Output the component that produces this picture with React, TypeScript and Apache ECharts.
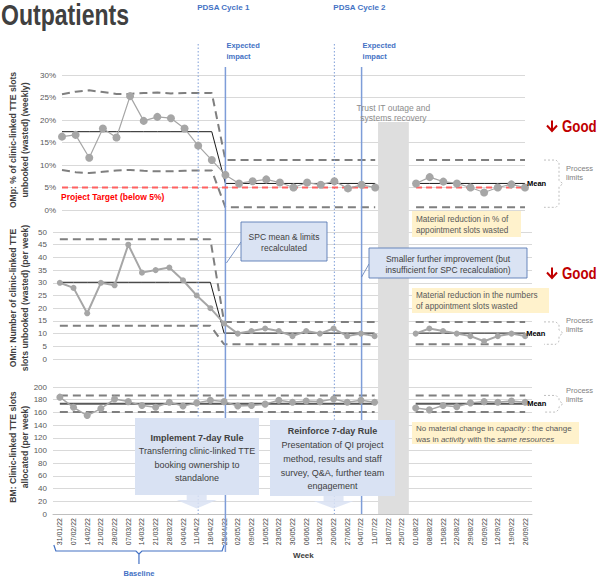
import React, { useEffect, useRef } from "react";
import * as echarts from "echarts";

// Weekly periods (Monday of each week)
const weeks = [
  "31/01/22", "07/02/22", "14/02/22", "21/02/22", "28/02/22", "07/03/22", "14/03/22",
  "21/03/22", "28/03/22", "04/04/22", "11/04/22", "18/04/22", "25/04/22", "02/05/22",
  "09/05/22", "16/05/22", "23/05/22", "30/05/22", "06/06/22", "13/06/22", "20/06/22",
  "27/06/22", "04/07/22", "11/07/22", "18/07/22", "25/07/22", "01/08/22", "08/08/22",
  "15/08/22", "22/08/22", "29/08/22", "05/09/22", "12/09/22", "19/09/22", "26/09/22",
];
const outageWeeks = ["18/07/22", "25/07/22"];
const cycleWeeks = ["11/04/22", "20/06/22"];
const impactWeeks = ["25/04/22", "04/07/22"];
const recalcWeek = "25/04/22";
const baselineWeeks = ["31/01/22", "25/04/22"];

// OMp: % of clinic-linked TTE slots unbooked
const pctUnbooked = [
  16.3, 16.7, 11.6, 18.1, 16.1, 25.3, 19.8, 20.7, 20.4, 18.1, 14.3, 11.1, 7.8, 5.9, 6.4,
  6.8, 6.1, 5.0, 6.1, 5.6, 6.4, 4.8, 5.6, 5.0, null, null, 5.9, 7.3, 6.3, 5.9, 5.0, 3.9,
  5.0, 5.7, 5.0,
];
const pctUclBaseline = [25.7, 26.3, 26.6, 26.2, 25.8, 25.8, 26.0, 26.1, 25.9, 26.0, 26.0, 26.0];
const pctLclBaseline = [8.9, 8.4, 8.2, 8.5, 8.8, 8.9, 8.7, 8.6, 8.6, 8.7, 8.8, 8.8];
const pctMeanPhases = [17.4, 5.9];
const pctUclPost = 11.1;
const pctLclPost = 0.6;
const pctTarget = 5;

// OMn: number of clinic-linked TTE slots unbooked per week
const numUnbooked = [
  30, 28, 18, 30, 29, 45, 34, 35, 36, 31, 25, 20, 14, 10, 11, 12, 11, 9, 11, 10, 12, 9, 10,
  9, null, null, 10, 12, 11, 10, 9, 7, 9, 10, 9,
];
const numMeanPhases = [30.2, 10.2];
const numUclPhases = [47.1, 14.6];
const numLclPhases = [13.1, 5.8];

// BM: clinic-linked TTE slots allocated per week
const slotsAllocated = [
  184, 168, 155, 166, 181, 177, 171, 168, 176, 170, 175, 179, 177, 170, 171, 173, 179, 176,
  178, 177, 181, 176, 179, 176, null, null, 167, 164, 171, 169, 175, 177, 176, 178, 176,
];
const slotsMean = 173.6;
const slotsUcl = 186.7;
const slotsLcl = 160.5;

const FONT = "'Liberation Sans', Arial, sans-serif";
const recalcIdx = weeks.indexOf(recalcWeek);

// Step line across the two SPC phases, broken during the IT outage
const phase = (before: number | number[], after: number) =>
  weeks.map((w, i) =>
    outageWeeks.includes(w)
      ? null
      : i < recalcIdx
      ? typeof before === "number"
        ? before
        : before[i]
      : after
  );

const limitStyle = { color: "#7F7F7F", width: 2, type: [8, 5] };

function yAxis(gridIndex: number, max: number, interval: number, pct = false) {
  const label: any = { fontSize: 8, color: "#595959", margin: 6, fontFamily: FONT };
  if (pct) label.formatter = "{value}%";
  return {
    type: "value",
    gridIndex,
    min: 0,
    max,
    interval,
    axisLine: { show: false },
    axisTick: { show: false },
    axisLabel: label,
    splitLine: { lineStyle: { color: "#D9D9D9", width: 1 } },
  };
}

function line(idx: number, data: (number | null)[], lineStyle: any, z = 2) {
  return {
    type: "line",
    xAxisIndex: idx,
    yAxisIndex: idx,
    data,
    symbol: "none",
    silent: true,
    lineStyle,
    z,
  };
}

function points(idx: number, data: (number | null)[], size: number, width: number) {
  return {
    type: "line",
    xAxisIndex: idx,
    yAxisIndex: idx,
    data,
    symbol: "circle",
    symbolSize: size,
    showSymbol: true,
    silent: true,
    itemStyle: { color: "#A6A6A6", borderWidth: 0 },
    lineStyle: { color: "#A6A6A6", width },
    z: 5,
  };
}

function buildOption(): any {
  return {
    animation: false,
    textStyle: { fontFamily: FONT },
    grid: [
      { left: 62, right: 72, top: 75, height: 135 },
      { left: 53, right: 65, top: 232, height: 127 },
      { left: 53, right: 65, top: 387, height: 127 },
    ],
    xAxis: [
      { type: "category", gridIndex: 0, data: weeks, boundaryGap: false, show: false },
      { type: "category", gridIndex: 1, data: weeks, boundaryGap: true, show: false },
      {
        type: "category",
        gridIndex: 2,
        data: weeks,
        boundaryGap: true,
        axisLine: { lineStyle: { color: "#BFBFBF" } },
        axisTick: { show: false },
        axisLabel: { rotate: 90, interval: 0, fontSize: 7, color: "#404040", margin: 4, fontFamily: FONT },
      },
    ],
    yAxis: [yAxis(0, 30, 5, true), yAxis(1, 50, 5), yAxis(2, 200, 20)],
    series: [
      line(0, phase(pctUclBaseline, pctUclPost), limitStyle),
      line(0, phase(pctLclBaseline, pctLclPost), limitStyle),
      line(0, phase(pctMeanPhases[0], pctMeanPhases[1]), { color: "#1A1A1A", width: 1 }),
      line(0, phase(pctTarget, pctTarget), { color: "#FF6161", width: 1.8, type: [6, 4] }, 3),
      points(0, pctUnbooked, 8, 1.2),

      line(1, phase(numUclPhases[0], numUclPhases[1]), limitStyle),
      line(1, phase(numLclPhases[0], numLclPhases[1]), limitStyle),
      line(1, phase(numMeanPhases[0], numMeanPhases[1]), { color: "#1A1A1A", width: 1 }),
      points(1, numUnbooked, 6, 2),

      line(2, phase(slotsUcl, slotsUcl), limitStyle),
      line(2, phase(slotsLcl, slotsLcl), limitStyle),
      line(2, phase(slotsMean, slotsMean), { color: "#595959", width: 2 }),
      points(2, slotsAllocated, 7, 1.5),
    ],
  };
}

function txt(text: string, x: number, y: number, o: any = {}) {
  const { align = "left", vAlign = "middle", z = 20, rotation, scaleX, ...rest } = o;
  const el: any = {
    type: "text",
    x,
    y,
    z,
    silent: true,
    style: {
      text,
      fontFamily: FONT,
      fontSize: 8,
      fill: "#404040",
      align,
      textAlign: align,
      verticalAlign: vAlign,
      textVerticalAlign: vAlign,
      ...rest,
    },
  };
  if (rotation !== undefined) el.rotation = rotation;
  if (scaleX !== undefined) el.scaleX = scaleX;
  return el;
}

function rect(x: number, y: number, w: number, h: number, fill: string, stroke?: string, z = 15) {
  return {
    type: "rect",
    z,
    silent: true,
    shape: { x, y, width: w, height: h },
    style: { fill, stroke: stroke || "none", lineWidth: stroke ? 0.9 : 0 },
  };
}

function seg(x1: number, y1: number, x2: number, y2: number, stroke: string, lineWidth: number, lineDash?: number[], z = 3) {
  const style: any = { stroke, lineWidth };
  if (lineDash) style.lineDash = lineDash;
  return { type: "line", z, silent: true, shape: { x1, y1, x2, y2 }, style };
}

function poly(points: number[][], stroke: string, lineWidth: number, lineDash?: number[], z = 12) {
  const style: any = { stroke, lineWidth, fill: "none" };
  if (lineDash) style.lineDash = lineDash;
  return { type: "polyline", z, silent: true, shape: { points }, style };
}

function lines(list: string[], cx: number, y0: number, lh: number, o: any = {}) {
  return list.map((l, i) => txt(l, cx, y0 + i * lh, o));
}

function downArrow(cx: number, top: number, tip: number, fill: string) {
  return {
    type: "polygon",
    z: 15,
    silent: true,
    shape: {
      points: [
        [cx - 10, top],
        [cx + 10, top],
        [cx + 10, top + 5],
        [cx + 20, top + 5],
        [cx, tip],
        [cx - 20, top + 5],
        [cx - 10, top + 5],
      ],
    },
    style: { fill, opacity: 0.85 },
  };
}

function brace(x: number, yT: number, yB: number) {
  const ym = (yT + yB) / 2;
  return poly(
    [
      [x, yT],
      [x + 12, yT],
      [x + 15, yT + 3],
      [x + 15, ym - 3],
      [x + 19, ym],
      [x + 15, ym + 3],
      [x + 15, yB - 3],
      [x + 12, yB],
      [x, yB],
    ],
    "#BFBFBF",
    1,
    [2, 2]
  );
}

// Red "↓ Good" marker: drawn arrow plus condensed bold word
function goodMarker(yMid: number) {
  const red = "#C00000";
  return [
    seg(552, yMid - 5.5, 552, yMid + 5, red, 2, undefined, 20),
    poly([[547, yMid - 0.5], [552, yMid + 5], [557, yMid - 0.5]], red, 2, undefined, 20),
    txt("Good", 562, yMid, { fontSize: 17, fontWeight: "bold", fill: red, scaleX: 0.78 }),
  ];
}

function buildGraphics(chart: any) {
  const px = (axis: number, cat: string) => chart.convertToPixel({ xAxisIndex: axis }, cat) as number;
  const py = (axis: number, v: number) => chart.convertToPixel({ yAxisIndex: axis }, v) as number;
  const els: any[] = [];

  const axisBottom = py(2, 0);
  const blue = "#4472C4";
  const lineBlue = "#7E9DD8";

  // Title
  els.push(txt("Outpatients", 1, 15.5, { fontSize: 29, fontWeight: "bold", fill: "#404040", scaleX: 0.795 }));

  // Axis titles
  const names = [
    ["OMp: % of clinic-linked TTE slots\nunbooked (wasted) (weekly)", 140],
    ["OMn: Number of clinic-linked TTE\nslots unbooked (wasted) (per week)", 298],
    ["BM: Clinic-linked TTE slots\nallocated (per week)", 447],
  ] as [string, number][];
  names.forEach(([t, y]) =>
    els.push(
      txt(t, 19, y, {
        align: "center",
        fontSize: 9,
        fontWeight: "bold",
        lineHeight: 12,
        rotation: Math.PI / 2,
        scaleX: 0.96,
      })
    )
  );

  // IT outage band
  const step = px(2, weeks[1]) - px(2, weeks[0]);
  const bandL = px(2, outageWeeks[0]) - step * 0.75;
  const bandR = px(2, outageWeeks[1]) + step * 0.5;
  els.push(rect(bandL, 122, bandR - bandL, axisBottom - 122, "#DEDEDE", undefined, 1));
  els.push(
    ...lines(["Trust IT outage and", "systems recovery"], (bandL + bandR) / 2, 108, 10, {
      align: "center",
      fontSize: 8.5,
      fill: "#8C8C8C",
    })
  );

  // PDSA cycle and expected impact markers
  cycleWeeks.forEach((w, i) => {
    const x = px(0, w);
    els.push(seg(x, 44, x, axisBottom, lineBlue, 1, [1.5, 2]));
    els.push(txt(`PDSA Cycle ${i + 1}`, x - 1, 7, { fontSize: 8, fontWeight: "bold", fill: blue }));
  });
  impactWeeks.forEach((w, i) => {
    const x = px(0, w);
    els.push(seg(x, 67, x, i === 0 ? 552 : axisBottom, lineBlue, 1.5));
    els.push(...lines(["Expected", "impact"], x + 1, 45, 11, { fontSize: 7.5, fontWeight: "bold", fill: blue }));
  });

  // Target label
  els.push(txt("Project Target (below 5%)", 61, 196.5, { fontSize: 8.5, fontWeight: "bold", fill: "#FF0000" }));

  // Direction of improvement
  els.push(...goodMarker(126));
  els.push(...goodMarker(273));

  // Mean labels
  const last = weeks[weeks.length - 1];
  els.push(txt("Mean", px(0, last) + 2, py(0, pctMeanPhases[1]), { fontSize: 7.5, fontWeight: "bold", fill: "#000" }));
  els.push(txt("Mean", px(1, last) + 1, py(1, numMeanPhases[1]), { fontSize: 7.5, fontWeight: "bold", fill: "#000" }));
  els.push(txt("Mean", px(2, last) + 2, py(2, slotsMean), { fontSize: 7.5, fontWeight: "bold", fill: "#000" }));

  // Process limit braces
  const limitPairs = [
    [py(0, pctUclPost), py(0, pctLclPost), 172.5],
    [py(1, numUclPhases[1]), py(1, numLclPhases[1]), 325],
    [py(2, slotsUcl), py(2, slotsLcl), 394.5],
  ];
  limitPairs.forEach(([yT, yB, ty]) => {
    els.push(brace(544, yT, yB));
    els.push(txt("Process\nlimits", 566, ty, { fontSize: 7.5, fill: "#7F7F7F", lineHeight: 9 }));
  });

  // Callouts on SPC recalculation
  els.push(rect(241, 222, 86, 39, "#DAE3F3", "#5A7AB5"));
  els.push(...lines(["SPC mean & limits", "recalculated"], 284, 236.5, 11, { align: "center", fontSize: 8.5 }));
  els.push(seg(241, 242, px(0, impactWeeks[0]) + 1, 263, "#5A7AB5", 0.8, undefined, 14));

  els.push(rect(369, 248, 158, 30, "#DAE3F3", "#5A7AB5"));
  els.push(
    ...lines(["Smaller further improvement (but", "insufficient for SPC recalculation)"], 448, 258.5, 11, {
      align: "center",
      fontSize: 8.5,
    })
  );
  els.push(seg(369, 264, px(0, impactWeeks[1]), 277, "#5A7AB5", 0.8, undefined, 14));

  // Interpretation notes
  const yellow = "#FFF2CC";
  els.push(rect(412, 211, 109, 26, yellow));
  els.push(
    ...lines(["Material reduction in % of", "appointment slots wasted"], 416, 219, 11, { fontSize: 8.2, fill: "#595959" })
  );
  els.push(rect(412, 288, 137, 25, yellow));
  els.push(
    ...lines(["Material reduction in the numbers", "of appointment slots wasted"], 416, 295.5, 10.5, {
      fontSize: 8.2,
      fill: "#595959",
    })
  );
  els.push(rect(412, 422, 167, 22, yellow));
  const noteRich = {
    n: { fontSize: 8, fontFamily: FONT, fill: "#595959", color: "#595959" },
    i: { fontStyle: "italic", fontSize: 8, fontFamily: FONT, fill: "#595959", color: "#595959" },
  };
  els.push(
    txt("{n|No material change in }{i|capacity}{n| : the change}", 416, 428.3, { fontSize: 8, fill: "#595959", rich: noteRich })
  );
  els.push(
    txt("{n|was in }{i|activity}{n| with the }{i|same resources}", 416, 439, { fontSize: 8, fill: "#595959", rich: noteRich })
  );

  // PDSA action boxes
  const actFill = "#D9E2F3";
  const c1 = px(2, cycleWeeks[0]);
  els.push(rect(135, 418, 124, 77, actFill));
  els.push(downArrow(c1, 495, 508.5, actFill));
  els.push(txt("Implement 7-day Rule", 197, 437.7, { align: "center", fontSize: 9, fontWeight: "bold" }));
  els.push(
    ...lines(["Transferring clinic-linked TTE", "booking ownership to", "standalone"], 197, 451.2, 13.6, {
      align: "center",
      fontSize: 9,
    })
  );

  const c2 = px(2, cycleWeeks[1]);
  els.push(rect(270, 420, 125, 76, actFill));
  els.push(downArrow(c2, 496, 508.5, actFill));
  els.push(txt("Reinforce 7-day Rule", 332.5, 431, { align: "center", fontSize: 9, fontWeight: "bold" }));
  els.push(
    ...lines(
      ["Presentation of QI project", "method, results and staff", "survey, Q&A, further team", "engagement"],
      332.5,
      445,
      13.8,
      { align: "center", fontSize: 9 }
    )
  );

  // Baseline bracket
  const bx0 = px(2, baselineWeeks[0]) - 6;
  const bx1 = px(2, baselineWeeks[1]);
  const bm = (bx0 + bx1) / 2;
  els.push(poly([[bx0, 545], [bx0 + 2, 551], [bm - 3, 551], [bm, 554], [bm, 564]], blue, 1.2));
  els.push(poly([[bm, 554], [bm + 3, 551], [bx1 - 2, 551], [bx1, 545]], blue, 1.2));
  els.push(txt("Baseline", bm, 573, { align: "center", fontSize: 7.5, fontWeight: "bold", fill: blue }));

  // X axis title
  els.push(txt("Week", 293, 555, { fontSize: 8, fontWeight: "bold" }));

  return els;
}

export default function App() {
  const ref = useRef<HTMLDivElement>(null);
  useEffect(() => {
    document.body.style.margin = "0";
    const chart = echarts.init(ref.current!, null, { renderer: "svg" });
    chart.setOption(buildOption());
    chart.setOption({ graphic: buildGraphics(chart) });
    return () => chart.dispose();
  }, []);
  return <div ref={ref} style={{ width: 597, height: 577, background: "#fff" }} />;
}
